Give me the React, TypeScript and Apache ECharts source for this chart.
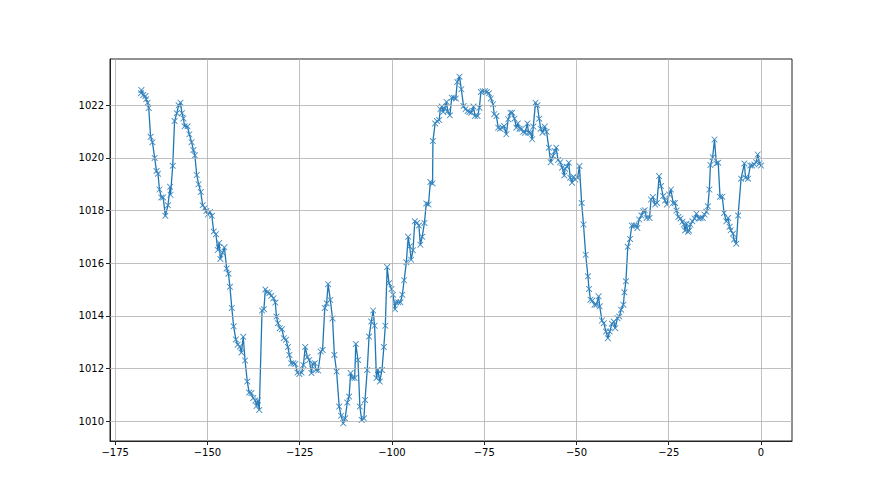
import React, { useEffect, useRef } from "react";
import * as echarts from "echarts";

const hours: number[] = [
  -168.0, -167.9, -167.4, -166.8, -166.6, -166.2, -165.9, -165.4, -164.9, -164.3, -163.8, -163.4, -163.0, -162.5, -162.0, -161.4,
  -160.7, -160.1, -160.0, -159.4, -158.9, -158.3, -157.8, -157.3, -156.9, -156.5, -156.2, -155.4, -154.9, -154.3, -153.8, -153.4,
  -152.9, -152.4, -151.8, -151.3, -150.7, -150.3, -149.9, -149.3, -148.8, -148.3, -147.7, -147.2, -146.8, -146.5, -145.9, -145.4,
  -144.8, -144.3, -143.9, -143.4, -142.9, -142.3, -141.8, -141.2, -140.8, -140.3, -139.8, -139.2, -138.7, -138.1, -137.6, -137.0,
  -136.7, -136.3, -135.95, -135.2, -134.7, -134.3, -133.8, -133.2, -132.7, -132.1, -131.6, -131.3, -130.9, -130.4, -129.8, -129.3,
  -128.7, -128.2, -127.8, -127.3, -126.7, -126.2, -125.6, -125.1, -124.5, -124.0, -123.5, -122.9, -122.4, -121.8, -121.5, -120.9,
  -120.6, -120.0, -119.3, -118.8, -118.2, -117.7, -117.3, -116.7, -116.1, -115.6, -115.0, -114.3, -113.8, -113.2, -112.7, -112.1,
  -111.6, -111.2, -110.7, -110.1, -109.8, -109.2, -108.7, -108.2, -107.6, -107.3, -106.7, -106.2, -105.6, -105.1, -104.7, -104.2,
  -103.8, -103.3, -102.7, -102.2, -101.8, -101.3, -100.8, -100.1, -99.7, -99.2, -98.9, -98.3, -97.7, -97.2, -96.7, -96.1,
  -95.6, -95.2, -94.8, -94.3, -93.8, -93.2, -92.7, -92.3, -91.8, -91.2, -90.7, -90.1, -89.6, -89.0, -88.9, -88.3,
  -87.8, -87.2, -86.9, -86.5, -86.1, -85.8, -85.2, -84.9, -84.3, -83.8, -83.2, -82.7, -82.3, -81.7, -81.2, -80.6,
  -80.1, -79.5, -79.0, -78.5, -77.9, -77.5, -76.8, -76.3, -75.9, -75.4, -74.8, -74.3, -73.7, -73.2, -72.6, -72.3,
  -71.7, -71.2, -70.7, -70.1, -69.6, -69.0, -68.5, -67.9, -67.4, -66.8, -66.3, -65.9, -65.4, -64.9, -64.4, -63.9,
  -63.3, -63.0, -62.4, -62.0, -61.7, -61.1, -60.6, -60.1, -59.7, -59.2, -58.6, -58.1, -57.5, -57.0, -56.4, -55.9,
  -55.5, -55.0, -54.4, -53.9, -53.3, -53.1, -52.6, -52.1, -51.7, -51.2, -50.8, -50.3, -49.7, -49.2, -48.6, -48.1,
  -47.5, -46.9, -46.6, -46.2, -45.7, -45.1, -44.6, -44.0, -43.7, -43.1, -42.6, -42.0, -41.5, -41.0, -40.4, -39.9,
  -39.5, -38.9, -38.4, -37.9, -37.3, -37.0, -36.6, -36.1, -35.5, -35.0, -34.4, -33.9, -33.5, -33.0, -32.4, -31.9,
  -31.5, -31.0, -30.2, -29.8, -29.3, -28.7, -28.2, -27.6, -27.1, -26.5, -26.0, -25.5, -24.9, -24.4, -23.8, -23.3,
  -22.9, -22.4, -21.8, -21.3, -20.9, -20.6, -20.2, -19.8, -19.5, -19.1, -18.6, -18.0, -17.5, -16.9, -16.4, -15.8,
  -15.3, -14.8, -14.4, -14.0, -13.7, -13.1, -12.6, -12.1, -11.6, -11.1, -10.5, -10.0, -9.4, -8.9, -8.5, -8.2,
  -7.6, -7.3, -6.7, -6.2, -5.4, -4.5, -4.2, -3.5, -2.9, -2.4, -1.8, -1.3, -0.9, -0.4, 0.0,
];

const pressure: number[] = [
  1022.46, 1022.58, 1022.39, 1022.35, 1022.23, 1022.1, 1021.9, 1020.8, 1020.6, 1020.0, 1019.5, 1019.4, 1018.8, 1018.5, 1018.5, 1017.8,
  1018.2, 1018.9, 1018.6, 1019.7, 1021.4, 1021.7, 1022.0, 1022.1, 1021.7, 1021.5, 1021.2, 1021.2, 1020.9, 1020.6, 1020.3, 1020.1,
  1019.35, 1019.0, 1018.7, 1018.2, 1018.1, 1017.98, 1017.85, 1017.94, 1017.8, 1017.2, 1017.1, 1016.5, 1016.77, 1016.16, 1016.4, 1016.6,
  1015.8, 1015.6, 1015.1, 1014.3, 1013.6, 1013.1, 1012.9, 1012.83, 1012.6, 1013.2, 1012.3, 1011.5, 1011.08, 1011.06, 1010.87, 1010.78,
  1010.57, 1010.78, 1010.42, 1014.2, 1014.25, 1015.0, 1014.89, 1014.87, 1014.76, 1014.67, 1014.5, 1013.97, 1013.72, 1013.53, 1013.49, 1013.15,
  1013.09, 1012.81, 1012.51, 1012.2, 1012.2, 1012.17, 1011.84, 1011.79, 1011.84, 1012.13, 1012.81, 1012.43, 1012.32, 1011.82, 1012.17, 1012.2,
  1011.94, 1011.92, 1012.64, 1012.7, 1014.3, 1014.48, 1015.2, 1014.6, 1013.9, 1012.51, 1011.88, 1010.55, 1010.2, 1009.91, 1010.1, 1010.7,
  1010.93, 1011.82, 1011.63, 1011.63, 1012.93, 1012.32, 1010.55, 1010.04, 1010.1, 1010.8, 1011.94, 1013.21, 1013.78, 1014.2, 1013.62, 1011.63,
  1011.94, 1011.5, 1011.94, 1012.81, 1013.62, 1015.85, 1015.24, 1015.02, 1014.8, 1014.25, 1014.51, 1014.51, 1014.51, 1014.8, 1015.35, 1016.03,
  1017.0, 1016.64, 1016.13, 1016.49, 1017.59, 1017.53, 1017.43, 1016.7, 1017.0, 1017.53, 1018.27, 1018.23, 1019.08, 1019.03, 1020.64, 1021.31,
  1021.4, 1021.44, 1021.85, 1021.95, 1021.75, 1021.87, 1022.13, 1021.78, 1021.62, 1022.29, 1022.29, 1022.26, 1022.89, 1023.09, 1022.61, 1021.97,
  1021.85, 1021.78, 1021.75, 1021.72, 1021.95, 1021.59, 1021.59, 1021.91, 1022.51, 1022.53, 1022.53, 1022.51, 1022.46, 1022.26, 1022.04, 1021.66,
  1021.59, 1021.15, 1021.11, 1021.15, 1021.21, 1020.9, 1021.47, 1021.72, 1021.72, 1021.49, 1021.15, 1021.31, 1021.11, 1021.1, 1020.99, 1020.96,
  1021.31, 1020.96, 1020.96, 1020.71, 1021.19, 1022.1, 1022.0, 1021.49, 1021.11, 1020.96, 1021.19, 1020.99, 1020.39, 1019.84, 1020.07, 1020.26,
  1020.39, 1019.92, 1019.84, 1019.63, 1019.33, 1019.59, 1019.66, 1019.82, 1019.25, 1019.06, 1019.28, 1019.18, 1019.25, 1019.69, 1018.29, 1017.47,
  1016.32, 1015.5, 1015.02, 1014.61, 1014.58, 1014.42, 1014.42, 1014.74, 1014.36, 1013.82, 1013.72, 1013.4, 1013.15, 1013.4, 1013.7, 1013.78,
  1013.53, 1013.91, 1013.97, 1014.23, 1014.42, 1014.89, 1015.31, 1016.62, 1016.92, 1017.43, 1017.43, 1017.43, 1017.34, 1017.66, 1017.81, 1017.97,
  1018.01, 1017.72, 1017.72, 1018.42, 1018.51, 1018.23, 1018.29, 1019.31, 1018.93, 1018.55, 1018.38, 1018.23, 1018.61, 1018.8, 1018.29, 1018.29,
  1018.0, 1017.75, 1017.7, 1017.57, 1017.47, 1017.24, 1017.5, 1017.19, 1017.24, 1017.47, 1017.59, 1017.7, 1017.88, 1017.7, 1017.72, 1017.72,
  1017.85, 1017.95, 1018.16, 1018.8, 1019.73, 1020.03, 1020.7, 1019.79, 1019.82, 1018.52, 1018.52, 1017.91, 1017.59, 1017.72, 1017.38, 1017.25,
  1017.12, 1016.9, 1016.74, 1017.81, 1019.21, 1019.79, 1019.25, 1019.21, 1019.71, 1019.71, 1019.75, 1019.84, 1020.13, 1019.79, 1019.71,
];

const xTicks: number[] = [-175, -150, -125, -100, -75, -50, -25, 0];
const yTicks: number[] = [1010, 1012, 1014, 1016, 1018, 1020, 1022];

const X_MIN = -176.4;
const X_MAX = 8.4;
const Y_MIN = 1009.24;
const Y_MAX = 1023.76;

const LINE_COLOR = "#1f77b4";
const MARKER_COLOR = "#3a87c0";
const GRID_COLOR = "#b0b0b0";
const FRAME_COLOR = "#222222";
const FONT = "DejaVu Sans";

const X_MARKER =
  "path://M0,0 L1,0 L5,4 L9,0 L10,0 L10,1 L6,5 L10,9 L10,10 L9,10 L5,6 L1,10 L0,10 L0,9 L4,5 L0,1 Z";

export default function App() {
  const ref = useRef<HTMLDivElement>(null);

  useEffect(() => {
    if (!ref.current) return;
    const chart = echarts.init(ref.current, null, { renderer: "svg" });
    const data = hours.map((h, i) => [h, pressure[i]]);
    const gridLines = [
      ...xTicks.map((v) => ({ xAxis: v })),
      ...yTicks.map((v) => ({ yAxis: v })),
    ];
    chart.setOption({
      animation: false,
      backgroundColor: "#ffffff",
      grid: {
        left: 110,
        top: 59,
        width: 682,
        height: 382,
        show: true,
        borderColor: FRAME_COLOR,
        borderWidth: 1,
        backgroundColor: "transparent",
      },
      xAxis: {
        type: "value",
        min: X_MIN,
        max: X_MAX,
        splitLine: { show: false },
        axisLine: { show: true, onZero: false, lineStyle: { color: FRAME_COLOR, width: 1 } },
        axisTick: {
          show: true,
          customValues: xTicks,
          length: 4,
          inside: false,
          lineStyle: { color: FRAME_COLOR, width: 1 },
        },
        axisLabel: {
          customValues: xTicks,
          color: "#000",
          fontFamily: FONT,
          fontSize: 10,
          margin: 6,
          formatter: (v: number) => (v < 0 ? "\u2212" + Math.abs(v) : String(v)),
        },
      },
      yAxis: {
        type: "value",
        min: Y_MIN,
        max: Y_MAX,
        splitLine: { show: false },
        axisLine: { show: true, onZero: false, lineStyle: { color: FRAME_COLOR, width: 1 } },
        axisTick: {
          show: true,
          customValues: yTicks,
          length: 4,
          inside: false,
          lineStyle: { color: FRAME_COLOR, width: 1 },
        },
        axisLabel: {
          customValues: yTicks,
          color: "#000",
          fontFamily: FONT,
          fontSize: 10,
          margin: 6,
          formatter: (v: number) => String(Math.round(v)),
        },
      },
      series: [
        {
          type: "line",
          data: [],
          z: 1,
          silent: true,
          markLine: {
            silent: true,
            symbol: ["none", "none"],
            label: { show: false },
            lineStyle: { color: GRID_COLOR, width: 0.8, type: "solid" },
            emphasis: { disabled: true },
            data: gridLines,
          },
        },
        {
          type: "line",
          z: 3,
          data,
          showSymbol: true,
          showAllSymbol: true,
          symbol: X_MARKER,
          symbolSize: 6,
          itemStyle: { color: MARKER_COLOR },
          lineStyle: { color: LINE_COLOR, width: 1.3 },
          emphasis: { disabled: true },
        },
      ],
    });
    return () => chart.dispose();
  }, []);

  return (
    <div
      ref={ref}
      style={{ position: "fixed", left: 0, top: 0, width: 880, height: 495, background: "#fff" }}
    />
  );
}
